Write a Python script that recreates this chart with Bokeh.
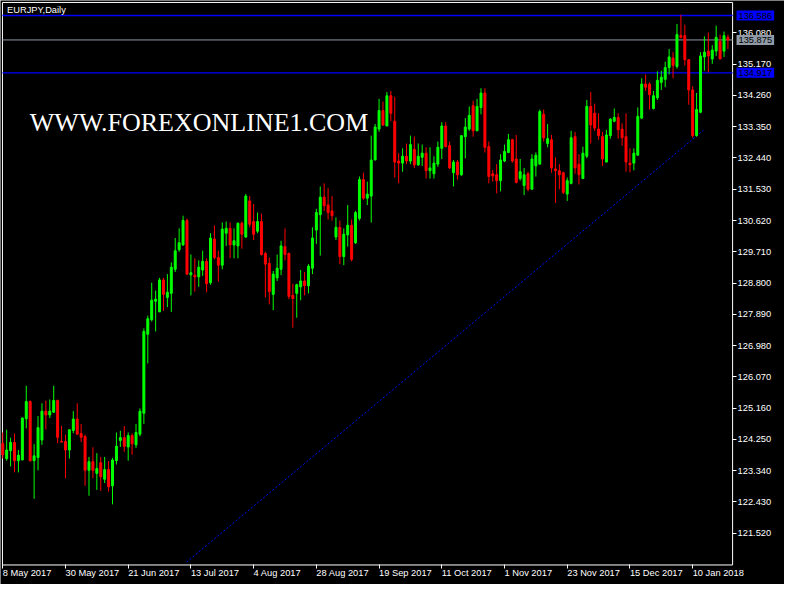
from bokeh.plotting import figure
from bokeh.models import (ColumnDataSource, FixedTicker, NumeralTickFormatter,
                          Label, Range1d)
from bokeh.embed import file_html
from bokeh.resources import INLINE

# ---- data (EURJPY daily) ----
opens = [124.13, 123.69, 123.92, 124.16, 123.63, 123.65, 124.85, 125.35, 123.63, 123.72,
         124.23, 125.07, 124.96, 125.04, 125.38, 124.19, 124.19, 123.94, 124.51, 124.84,
         124.42, 124.33, 123.35, 123.60, 123.26, 123.57, 123.09, 123.37, 122.90, 123.63,
         124.22, 124.30, 124.03, 124.36, 124.09, 124.40, 125.01, 127.31, 127.73, 128.27,
         127.96, 128.89, 128.38, 128.50, 129.20, 129.77, 129.91, 130.62, 129.04, 129.03,
         128.98, 129.18, 129.43, 128.81, 130.08, 129.54, 129.32, 130.25, 130.39, 129.91,
         129.88, 130.54, 130.14, 131.19, 130.59, 130.31, 130.59, 129.66, 129.37, 128.47,
         128.95, 129.20, 129.86, 129.66, 128.44, 128.50, 128.69, 128.86, 128.72, 129.23,
         130.34, 130.79, 131.30, 131.07, 130.90, 130.14, 130.42, 129.57, 130.20, 130.48,
         129.97, 130.68, 131.81, 131.27, 131.33, 132.38, 133.28, 133.82, 133.37, 134.25,
         133.51, 132.35, 132.29, 132.49, 132.35, 132.69, 132.24, 132.46, 132.58, 132.07,
         131.98, 132.26, 132.72, 133.37, 132.80, 132.01, 132.32, 131.95, 133.06, 133.28,
         133.96, 133.23, 133.91, 134.33, 132.77, 131.98, 131.95, 131.78, 132.35, 132.60,
         132.97, 132.41, 131.84, 131.64, 131.98, 131.53, 132.21, 132.26, 133.71, 132.86,
         132.97, 132.12, 132.07, 132.01, 131.39, 131.70, 133.06, 132.26, 131.84, 132.49,
         133.94, 133.74, 133.28, 133.06, 132.32, 133.09, 133.51, 133.62, 133.28, 133.06,
         132.29, 132.29, 132.52, 133.60, 134.59, 134.59, 133.88, 134.19, 134.64, 134.73,
         135.07, 135.35, 135.10, 136.00, 136.00, 135.30, 134.42, 133.09, 133.77, 135.38,
         135.55, 135.32, 135.55, 135.83, 135.55, 135.95]
highs = [124.45, 124.53, 124.30, 124.42, 123.94, 124.89, 125.81, 125.38, 124.11, 124.93,
         125.30, 125.38, 125.41, 125.81, 125.41, 124.64, 124.39, 124.53, 125.07, 125.30,
         124.70, 124.39, 123.74, 124.02, 123.85, 123.74, 123.74, 123.62, 123.71, 124.45,
         124.50, 124.64, 124.45, 124.42, 124.70, 125.15, 127.48, 127.85, 128.81, 128.58,
         128.95, 128.95, 129.06, 129.40, 130.11, 130.39, 130.76, 130.68, 129.63, 129.52,
         129.46, 129.74, 129.52, 130.25, 130.48, 129.74, 130.56, 130.59, 130.56, 130.39,
         130.56, 130.59, 131.39, 131.33, 131.10, 130.85, 130.82, 129.71, 129.54, 129.15,
         129.63, 130.03, 130.39, 129.69, 128.78, 128.78, 129.18, 129.12, 129.35, 130.42,
         130.96, 131.61, 131.70, 131.56, 131.33, 130.71, 130.62, 130.39, 131.07, 130.65,
         130.90, 131.90, 132.01, 131.75, 133.09, 133.43, 134.16, 134.08, 134.36, 134.39,
         134.22, 132.58, 132.72, 132.86, 133.09, 133.06, 132.86, 132.83, 132.75, 132.75,
         132.49, 132.92, 133.48, 133.48, 132.92, 132.38, 132.38, 133.09, 133.60, 133.94,
         134.11, 134.16, 134.47, 134.47, 132.92, 132.09, 132.26, 132.55, 132.83, 133.14,
         133.00, 133.11, 132.41, 132.15, 132.04, 132.55, 132.60, 133.85, 133.85, 133.43,
         133.11, 132.46, 132.26, 132.04, 131.87, 133.23, 133.20, 132.55, 132.77, 134.13,
         134.36, 134.02, 133.74, 133.20, 133.26, 133.60, 133.88, 133.74, 133.45, 133.74,
         132.72, 132.72, 133.91, 134.76, 134.87, 134.64, 134.39, 134.96, 134.98, 135.24,
         135.61, 135.52, 136.34, 136.61, 136.32, 135.30, 134.53, 134.33, 135.52, 135.98,
         136.09, 135.72, 136.29, 136.03, 136.12, 136.03]
lows = [123.69, 123.63, 123.46, 123.29, 123.29, 123.65, 124.57, 123.60, 122.52, 123.35,
        124.09, 124.54, 124.87, 125.03, 124.14, 124.17, 123.12, 123.69, 124.43, 124.40,
        124.17, 122.90, 122.61, 123.12, 122.78, 122.75, 122.98, 122.73, 122.36, 123.52,
        124.03, 123.89, 123.63, 123.80, 124.00, 124.34, 124.70, 126.46, 127.68, 127.39,
        127.96, 127.99, 128.10, 127.96, 129.12, 129.71, 129.88, 129.03, 128.44, 128.55,
        128.69, 129.01, 128.53, 128.75, 129.49, 128.84, 129.20, 129.88, 129.52, 129.52,
        129.52, 129.80, 130.11, 130.42, 130.05, 130.25, 129.60, 128.38, 128.18, 128.01,
        128.86, 129.03, 129.46, 128.33, 127.50, 127.79, 128.30, 128.44, 128.50, 129.06,
        129.94, 129.60, 130.90, 130.65, 130.62, 130.05, 129.35, 129.32, 129.86, 129.43,
        129.94, 130.62, 131.22, 131.07, 130.56, 132.38, 133.20, 133.37, 133.37, 133.51,
        131.87, 131.70, 132.04, 132.26, 132.26, 132.15, 132.21, 132.21, 131.84, 131.84,
        131.84, 132.18, 132.41, 132.75, 132.12, 131.61, 131.81, 131.92, 132.43, 133.23,
        133.06, 133.23, 133.71, 132.60, 131.70, 131.75, 131.41, 131.47, 132.32, 132.58,
        132.30, 131.70, 131.78, 131.36, 131.47, 131.53, 131.90, 132.26, 132.92, 132.75,
        132.01, 131.13, 131.53, 131.39, 131.19, 131.67, 131.98, 131.67, 131.84, 132.43,
        132.86, 133.23, 132.97, 132.21, 132.32, 133.00, 133.48, 133.00, 132.80, 132.04,
        132.02, 132.08, 132.52, 133.57, 134.39, 133.85, 133.85, 134.13, 134.42, 134.50,
        134.87, 134.76, 135.04, 135.92, 135.13, 133.99, 133.03, 133.06, 133.74, 134.98,
        134.93, 135.18, 135.41, 135.32, 135.38, 135.61]
closes = [123.80, 123.94, 124.16, 123.63, 123.79, 124.87, 125.35, 123.63, 123.77, 124.59,
          125.07, 124.96, 125.07, 125.38, 124.31, 124.17, 123.94, 124.53, 124.84, 124.40,
          124.31, 123.35, 123.60, 123.35, 123.40, 123.16, 123.37, 122.87, 123.65, 124.05,
          124.30, 124.05, 124.36, 124.12, 124.45, 125.07, 127.39, 127.76, 128.30, 128.33,
          128.89, 128.47, 128.53, 129.26, 129.74, 129.97, 130.62, 129.06, 129.10, 128.98,
          129.26, 129.43, 128.78, 130.11, 129.54, 129.32, 130.37, 130.39, 129.91, 130.03,
          130.54, 130.22, 131.33, 130.51, 130.22, 130.59, 129.63, 129.35, 128.55, 129.06,
          129.23, 129.88, 129.63, 128.41, 128.35, 128.75, 128.86, 128.72, 129.29, 130.11,
          130.85, 131.30, 131.05, 130.85, 130.76, 130.42, 129.57, 130.22, 130.48, 129.49,
          130.85, 131.81, 131.27, 131.39, 132.38, 133.34, 133.82, 133.40, 134.25, 133.74,
          132.32, 132.29, 132.49, 132.35, 132.83, 132.24, 132.49, 132.58, 132.07, 132.15,
          132.29, 132.75, 133.37, 132.77, 132.15, 132.32, 131.95, 133.09, 133.34, 133.68,
          133.23, 133.94, 134.33, 132.75, 131.90, 131.92, 131.78, 132.38, 132.63, 132.97,
          132.35, 131.73, 132.04, 131.95, 131.53, 132.41, 132.52, 133.79, 133.03, 133.00,
          132.15, 132.07, 131.95, 131.44, 131.78, 133.03, 132.15, 131.95, 132.58, 133.94,
          133.40, 133.31, 133.09, 132.41, 133.11, 133.57, 133.62, 133.26, 133.03, 132.32,
          132.24, 132.58, 133.65, 134.59, 134.50, 134.28, 134.25, 134.70, 134.79, 135.07,
          135.38, 135.13, 136.03, 135.95, 135.30, 134.42, 133.09, 133.85, 135.41, 135.52,
          135.41, 135.58, 135.95, 135.32, 136.00, 135.875]

date_ticks = [0, 16, 32, 48, 64, 80, 96, 112, 128, 144, 160, 176]
date_labels = ["8 May 2017", "30 May 2017", "21 Jun 2017", "13 Jul 2017",
               "4 Aug 2017", "28 Aug 2017", "19 Sep 2017", "11 Oct 2017",
               "1 Nov 2017", "23 Nov 2017", "15 Dec 2017", "10 Jan 2018"]
price_ticks = [121.52, 122.43, 123.34, 124.25, 125.16, 126.07, 126.98, 127.89, 128.80,
               129.71, 130.62, 131.53, 132.44, 133.35, 134.26, 135.17, 136.08]
level_prices = [136.586, 134.917]
bid_price = 135.875
trend_x = [46.9, 178.75]
trend_y = [120.677, 133.247]

UP = "#00ff00"
DOWN = "#ff0000"
LEVEL = "#0000ff"
BID = "#8f9aa6"
FONT = "Liberation Sans"
FS = "9.3px"

n = len(opens)
idx = list(range(n))
colors = [UP if c >= o else DOWN for o, c in zip(opens, closes)]
src = ColumnDataSource(dict(
    x=idx, o=opens, h=highs, l=lows, c=closes,
    top=[max(o, c) for o, c in zip(opens, closes)],
    bottom=[min(o, c) for o, c in zip(opens, closes)],
    color=colors))

# whole canvas is the data frame; the MT4-style price/time axes sit inside it
XR = (-0.574, 199.43)
YR = (120.026, 137.023)
chart_left, chart_right = -0.074, 186.19     # frame border / price-axis position
chart_top, chart_bottom = 136.966, 120.594   # frame border / time-axis position

p = figure(width=784, height=584, output_backend="svg", toolbar_location=None,
           x_range=Range1d(*XR), y_range=Range1d(*YR), y_axis_location="right",
           min_border_left=0, min_border_top=0, min_border_right=0, min_border_bottom=0)
p.background_fill_color = "black"
p.border_fill_color = "black"
p.outline_line_color = None
p.grid.visible = False

# chart border
p.quad(left=[chart_left], right=[chart_right], top=[chart_top], bottom=[chart_bottom],
       fill_color=None, line_color="white", line_width=1)

# time axis
xa = p.xaxis[0]
xa.fixed_location = chart_bottom
xa.ticker = FixedTicker(ticks=date_ticks)
xa.major_label_overrides = {t: s for t, s in zip(date_ticks, date_labels)}
xa.axis_line_color = None
xa.major_tick_line_color = "white"
xa.major_tick_out = 4
xa.major_tick_in = 0
xa.minor_tick_line_color = None
xa.major_label_orientation = -0.00001
xa.major_label_standoff = 4
xa.major_label_text_color = "white"
xa.major_label_text_font = FONT
xa.major_label_text_font_size = FS

# price axis
ya = p.yaxis[0]
ya.fixed_location = chart_right
ya.ticker = FixedTicker(ticks=price_ticks)
ya.formatter = NumeralTickFormatter(format="0.000")
ya.axis_line_color = None
ya.major_tick_line_color = "white"
ya.major_tick_out = 4
ya.major_tick_in = 0
ya.minor_tick_line_color = None
ya.major_label_text_color = "white"
ya.major_label_text_font = FONT
ya.major_label_text_font_size = FS
ya.major_label_standoff = 1

# horizontal levels and bid line
k = len(level_prices)
p.segment(x0=[chart_left] * k, x1=[chart_right] * k, y0=level_prices, y1=level_prices,
          line_color=LEVEL, line_width=1.3)
p.segment(x0=[chart_left], x1=[chart_right], y0=[bid_price], y1=[bid_price],
          line_color=BID, line_width=1)

# trend line
p.line(trend_x, trend_y, line_color=LEVEL, line_width=1, line_dash="2 2")

# candles
p.segment(x0="x", y0="l", x1="x", y1="h", line_color="color", line_width=1, source=src)
p.vbar(x="x", width=0.5, top="top", bottom="bottom", fill_color="color",
       line_color="color", line_width=1, source=src)

# price boxes on the axis
for lp in level_prices:
    p.add_layout(Label(x=chart_right + 1.0, y=lp, text=f"{lp:.3f}", text_align="left",
                       text_baseline="middle", text_color="black", text_font=FONT,
                       text_font_size=FS, background_fill_color=LEVEL, padding=2))
p.add_layout(Label(x=chart_right + 1.0, y=bid_price, text=f"{bid_price:.3f}",
                   text_align="left", text_baseline="middle", text_color="black",
                   text_font=FONT, text_font_size=FS, background_fill_color=BID,
                   padding=2))

# chart caption and watermark
p.add_layout(Label(x=1.1, y=136.88, text="EURJPY,Daily", text_align="left",
                   text_baseline="top", text_color="white", text_font=FONT,
                   text_font_size=FS))
p.add_layout(Label(x=6.9, y=133.48, text="WWW.FOREXONLINE1.COM", text_align="left",
                   text_baseline="alphabetic", text_color="white",
                   text_font="Liberation Serif", text_font_size="26px"))

open("out.html", "w").write(file_html(p, INLINE))
